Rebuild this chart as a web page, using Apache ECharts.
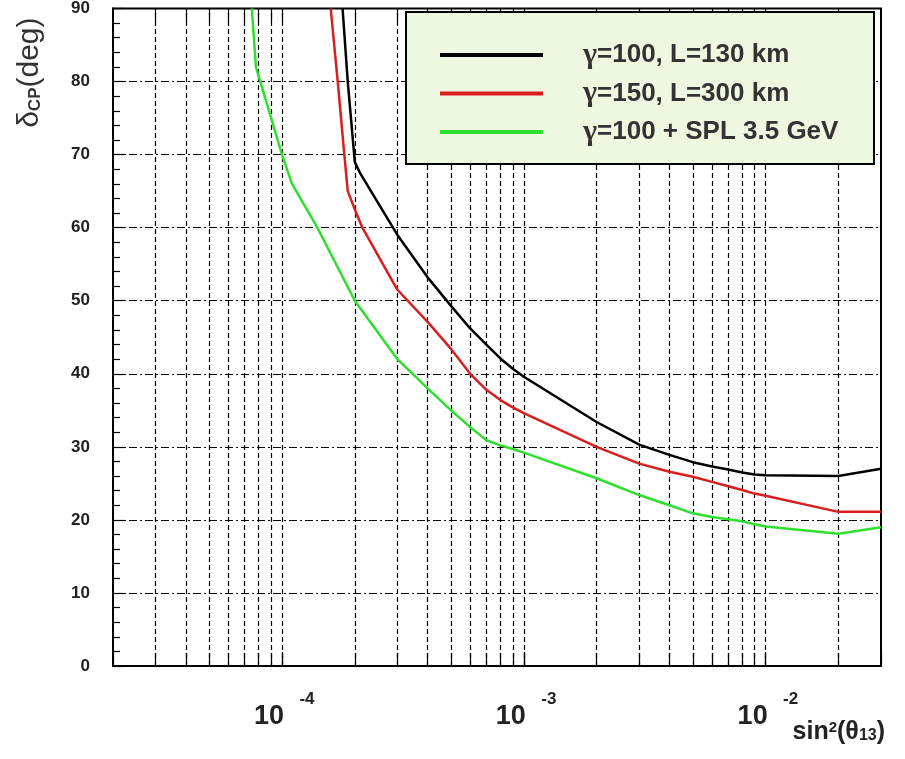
<!DOCTYPE html>
<html>
<head>
<meta charset="utf-8">
<title>delta CP sensitivity</title>
<script src="https://cdn.jsdelivr.net/npm/echarts@6/dist/echarts.min.js"></script>
<style>
  html, body { margin: 0; padding: 0; background: #fff; }
  #chart { width: 905px; height: 759px; }
</style>
</head>
<body>
<div id="chart"></div>
<script>
// legend names
const seriesNames = ["γ=100, L=130 km", "γ=150, L=300 km", "γ=100 + SPL 3.5 GeV"];

// sin^2(theta13) / delta_CP (deg)
const blackX = [1.78e-4, 1.87e-4, 2e-4, 2.1e-4, 3e-4, 4e-4, 5e-4, 6e-4, 7e-4, 8e-4, 9e-4, 1e-3,
  2e-3, 3e-3, 4e-3, 5e-3, 6e-3, 7e-3, 8e-3, 9e-3, 1e-2, 2e-2, 3e-2];
const blackY = [90, 80, 69, 67.5, 59, 53.2, 49.3, 46.2, 44, 42.1, 40.7, 39.6,
  33.4, 30.3, 28.9, 27.9, 27.3, 26.9, 26.5, 26.2, 26.1, 26.0, 27.0];

const redX = [1.59e-4, 1.7e-4, 1.81e-4, 1.87e-4, 2e-4, 2.15e-4, 3e-4, 4e-4, 5e-4, 6e-4, 7e-4, 8e-4, 9e-4, 1e-3,
  2e-3, 3e-3, 4e-3, 5e-3, 6e-3, 7e-3, 8e-3, 9e-3, 1e-2, 2e-2, 3e-2];
const redY = [90, 80, 70, 65, 62.5, 60, 51.5, 47.1, 43.4, 40.0, 37.8, 36.4, 35.4, 34.6,
  30.0, 27.7, 26.6, 25.9, 25.2, 24.6, 24.1, 23.6, 23.3, 21.1, 21.1];

const greenX = [7.5e-5, 7.8e-5, 1e-4, 1.1e-4, 1.4e-4, 2e-4, 3e-4, 4e-4, 5e-4, 6e-4, 7e-4, 8e-4, 9e-4, 1e-3,
  2e-3, 3e-3, 4e-3, 5e-3, 6e-3, 7e-3, 8e-3, 9e-3, 1e-2, 2e-2, 3e-2];
const greenY = [90, 82, 70, 66, 60, 50, 42, 38, 35, 32.7, 30.9, 30.2, 29.7, 29.2,
  25.7, 23.4, 22.0, 20.9, 20.4, 20.1, 19.8, 19.4, 19.1, 18.1, 19.0];

const seriesColors = ["#000000", "#d81e1e", "#2ee02e"];

// axes
const xMin = 2e-5;
const xMax = 3e-2;
const yMin = 0;
const yMax = 90;
const yStep = 10;
const gridDecades = [1e-5, 1e-4, 1e-3, 1e-2];
const gridMultipliers = [1, 2, 3, 4, 5, 6, 7, 8, 9];

const FONT = "'Liberation Sans', Arial, Helvetica, sans-serif";
const SERIF = "'Liberation Serif', 'DejaVu Serif', serif";

function pairs(xs, ys) {
  return xs.map((x, i) => [x, ys[i]]);
}

// vertical grid positions (every k * 10^n inside the range)
const gridX = [];
gridDecades.forEach((d) => {
  gridMultipliers.forEach((m) => {
    const v = m * d;
    if (v > xMin * 1.0001 && v < xMax * 0.9999) gridX.push(v);
  });
});

const tickLen = 1.8; // in y units, short ticks on bottom / top frame

const chart = echarts.init(document.getElementById("chart"), null, { renderer: "canvas" });

const curveData = [pairs(blackX, blackY), pairs(redX, redY), pairs(greenX, greenY)];

function helperLines(name, style, lines) {
  return {
    type: "line",
    name: name,
    data: [],
    z: 1,
    silent: true,
    markLine: {
      z: 1,
      silent: true,
      symbol: ["none", "none"],
      label: { show: false },
      emphasis: { disabled: true },
      animation: false,
      lineStyle: style,
      data: lines,
    },
  };
}

const option = {
  backgroundColor: "#ffffff",
  animation: false,
  textStyle: { fontFamily: FONT },
  grid: {
    left: 113,
    top: 8,
    width: 768,
    height: 658,
    show: true,
    borderColor: "#000",
    borderWidth: 2,
    backgroundColor: "transparent",
  },
  xAxis: {
    type: "log",
    logBase: 10,
    min: xMin,
    max: xMax,
    axisLine: { show: true, lineStyle: { color: "#000", width: 2 } },
    axisTick: { show: true, inside: true, length: 14, lineStyle: { color: "#000", width: 1.2 } },
    splitLine: { show: false },
    axisLabel: {
      margin: 27,
      formatter: (v) => {
        const p = Math.log10(v);
        const r = Math.round(p);
        if (Math.abs(p - r) > 1e-6) return "";
        return "{e|" + r + "}\n{b|10}";
      },
      rich: {
        b: { fontFamily: FONT, fontSize: 27, fontWeight: "bold", color: "#222", lineHeight: 24, padding: [0, 26, 0, 0] },
        e: { fontFamily: FONT, fontSize: 17, fontWeight: "bold", color: "#222", lineHeight: 12, padding: [0, 0, 0, 50] },
      },
    },
    name: "{a|sin}{s|2}{a|(θ}{u|13}{a|)}",
    nameLocation: "end",
    nameGap: 4,
    nameMoveOverlap: false,
    nameTextStyle: {
      align: "right",
      verticalAlign: "top",
      padding: [54, 0, 0, 0],
      rich: {
        a: { fontFamily: FONT, fontSize: 25, fontWeight: "bold", color: "#222", lineHeight: 24, padding: [6, 0, 6, 0] },
        s: { fontFamily: FONT, fontSize: 15, fontWeight: "bold", color: "#222", lineHeight: 15, verticalAlign: "top" },
        u: { fontFamily: FONT, fontSize: 16, fontWeight: "bold", color: "#222", lineHeight: 16, verticalAlign: "bottom" },
      },
    },
  },
  yAxis: {
    type: "value",
    min: yMin,
    max: yMax,
    interval: yStep,
    axisLine: { show: true, lineStyle: { color: "#000", width: 2 } },
    axisTick: { show: true, inside: true, length: 12, lineStyle: { color: "#000", width: 1.2 } },
    minorTick: { show: true, splitNumber: 5, length: 7, lineStyle: { color: "#000", width: 1.2 } },
    splitLine: { show: true, lineStyle: { color: "#000", width: 1.2, type: [8, 3, 2, 3] } },
    axisLabel: { margin: 23, fontFamily: FONT, fontSize: 17, fontWeight: "bold", color: "#222" },
    name: "{a|δ}{s|CP}{a|(deg)}",
    nameLocation: "end",
    nameRotate: 90,
    nameGap: -9,
    nameMoveOverlap: false,
    nameTextStyle: {
      align: "right",
      verticalAlign: "bottom",
      padding: [0, 0, 69, 0],
      rich: {
        a: { fontFamily: FONT, fontSize: 30, color: "#333", lineHeight: 28 },
        s: { fontFamily: FONT, fontSize: 17, fontWeight: "bold", color: "#333", lineHeight: 16, verticalAlign: "bottom" },
      },
    },
  },
  legend: {
    data: seriesNames,
    orient: "vertical",
    left: 440,
    top: 40,
    padding: 0,
    itemWidth: 103,
    itemHeight: 4,
    itemGap: 8.5,
    icon: "rect",
    selectedMode: false,
    z: 101,
    formatter: (name) => "{g|γ}{t|" + name.slice(1) + "}",
    textStyle: {
      fontFamily: FONT,
      fontSize: 26,
      fontWeight: "bold",
      color: "#333",
      lineHeight: 26,
      padding: [0, 0, 0, 35],
      rich: {
        g: { fontFamily: SERIF, fontSize: 30, color: "#333", lineHeight: 26 },
        t: { fontFamily: FONT, fontSize: 26, fontWeight: "bold", color: "#333", lineHeight: 26 },
      },
    },
  },
  graphic: [
    {
      type: "rect",
      left: 405,
      top: 11,
      z: 100,
      silent: true,
      shape: { width: 468, height: 152 },
      style: { fill: "#eef7df", stroke: "#000", lineWidth: 2 },
    },
  ],
  series: [
    // dashed vertical grid
    helperLines("gridX", { color: "#000", width: 1.2, type: [5, 3] },
      gridX.map((v) => [{ coord: [v, yMin] }, { coord: [v, yMax] }])),
    // short solid ticks on bottom and top frame
    helperLines("ticksX", { color: "#000", width: 1.2, type: "solid" },
      gridX
        .map((v) => [{ coord: [v, yMin] }, { coord: [v, yMin + tickLen] }])
        .concat(gridX.map((v) => [{ coord: [v, yMax - tickLen] }, { coord: [v, yMax] }]))),
  ].concat(
    seriesNames.map((name, i) => ({
      type: "line",
      name: name,
      data: curveData[i],
      z: 10,
      symbol: "none",
      showSymbol: false,
      smooth: false,
      clip: true,
      color: seriesColors[i],
      itemStyle: { color: seriesColors[i] },
      lineStyle: { color: seriesColors[i], width: 2.5 },
      emphasis: { disabled: true },
    }))
  ),
};

chart.setOption(option);
</script>
</body>
</html>
